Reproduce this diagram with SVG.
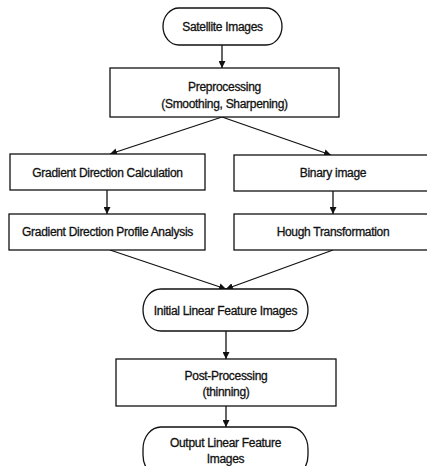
<svg xmlns="http://www.w3.org/2000/svg" width="427" height="466" viewBox="0 0 427 466">
<style>
.n{fill:#fff;stroke:#111;stroke-width:1.3}
.t{font-family:"Liberation Sans",Arial,sans-serif;font-size:12px;fill:#111;stroke:#111;stroke-width:0.3;text-anchor:middle;dominant-baseline:central;letter-spacing:-0.3px}
.c{stroke:#111;stroke-width:1.3;fill:none;marker-end:url(#ah)}
</style>
<defs>
<marker id="ah" viewBox="0 0 10 10" refX="10" refY="5" markerWidth="7" markerHeight="7" markerUnits="userSpaceOnUse" orient="auto">
<path d="M0,0 L10,5 L0,10 z" fill="#111"/>
</marker>
</defs>
<rect width="427" height="466" fill="#fff"/>
<g id="connectors">
<line class="c" x1="222" y1="45" x2="222" y2="68"/>
<line class="c" x1="222" y1="117" x2="110" y2="154"/>
<line class="c" x1="222" y1="117" x2="331" y2="155"/>
<line class="c" x1="107" y1="190" x2="107" y2="214"/>
<line class="c" x1="333" y1="191" x2="333" y2="214"/>
<line class="c" x1="110" y1="250" x2="226" y2="289"/>
<line class="c" x1="333" y1="250" x2="226" y2="289"/>
<line class="c" x1="226" y1="331" x2="226" y2="359"/>
<line class="c" x1="226" y1="406" x2="226" y2="427"/>
</g>
<g id="satellite">
<rect class="n" x="163" y="8" width="119" height="37" rx="16" ry="18.5"/>
<text class="t" x="222.5" y="27">Satellite Images</text>
</g>
<g id="preprocessing">
<rect class="n" x="110" y="68" width="229" height="49"/>
<text class="t" x="224.5" y="87">Preprocessing</text>
<text class="t" x="224.5" y="104">(Smoothing, Sharpening)</text>
</g>
<g id="gradcalc">
<rect class="n" x="10" y="154" width="195" height="36"/>
<text class="t" x="107.5" y="173">Gradient Direction Calculation</text>
</g>
<g id="binary">
<rect class="n" x="234" y="155" width="200" height="36"/>
<text class="t" x="333" y="173">Binary image</text>
</g>
<g id="gradprofile">
<rect class="n" x="9" y="214" width="196" height="36"/>
<text class="t" x="107.5" y="232">Gradient Direction Profile Analysis</text>
</g>
<g id="hough">
<rect class="n" x="234" y="214" width="200" height="36"/>
<text class="t" x="333" y="232">Hough Transformation</text>
</g>
<g id="initial">
<rect class="n" x="143" y="289" width="165" height="42" rx="18" ry="21"/>
<text class="t" x="225.5" y="311">Initial Linear Feature Images</text>
</g>
<g id="postprocessing">
<rect class="n" x="116" y="359" width="220" height="47"/>
<text class="t" x="226" y="376">Post-Processing</text>
<text class="t" x="226" y="392">(thinning)</text>
</g>
<g id="output">
<rect class="n" x="143" y="427" width="165" height="50" rx="18" ry="22"/>
<text class="t" x="225.5" y="443">Output Linear Feature</text>
<text class="t" x="225.5" y="459">Images</text>
</g>
</svg>
